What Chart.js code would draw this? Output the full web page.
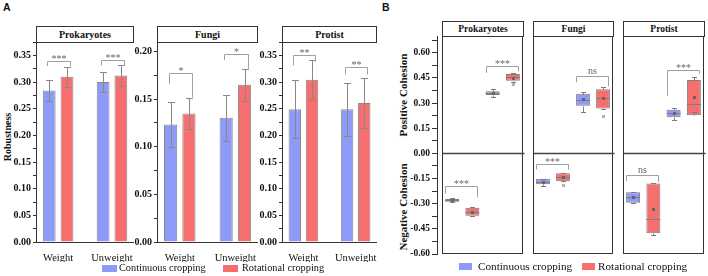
<!DOCTYPE html>
<html><head><meta charset="utf-8">
<script src="https://cdn.jsdelivr.net/npm/chart.js@4.4.1/dist/chart.umd.min.js"></script>
<style>
body{margin:0;background:#fff;width:708px;height:276px;overflow:hidden;position:relative;font-family:"Liberation Serif","Times New Roman",serif;color:#111;}
canvas{position:absolute;}
.hdr{position:absolute;box-sizing:border-box;border:1px solid #333;font-weight:bold;text-align:center;white-space:nowrap;}
.ha{top:26px;height:17px;font-size:10px;line-height:15px;}
.hb{top:21px;height:16px;font-size:9.5px;line-height:14px;}
.lab{position:absolute;font-family:"Liberation Sans",Arial,sans-serif;font-weight:bold;font-size:10.5px;line-height:10px;}
.rot{position:absolute;white-space:nowrap;font-weight:bold;transform:translate(-50%,-50%) rotate(-90deg);}
.sw{position:absolute;}
.lt{position:absolute;white-space:nowrap;}
</style></head><body>
<div class="lab" style="left:3px;top:2px">A</div>
<div class="lab" style="left:382px;top:2px">B</div>

<div class="hdr ha" style="left:36px;width:98px">Prokaryotes</div>
<div class="hdr ha" style="left:157px;width:101px">Fungi</div>
<div class="hdr ha" style="left:282px;width:95px">Protist</div>

<div class="hdr hb" style="left:442px;width:82px">Prokaryotes</div>
<div class="hdr hb" style="left:533px;width:81px">Fungi</div>
<div class="hdr hb" style="left:623px;width:82px">Protist</div>

<div class="rot" style="left:6.5px;top:137px;font-size:10px">Robustness</div>
<div class="rot" style="left:403px;top:95px;font-size:11px">Positive Cohesion</div>
<div class="rot" style="left:403px;top:207px;font-size:11px">Negative Cohesion</div>

<canvas id="a1" width="140" height="230" style="left:0px;top:32px"></canvas>
<canvas id="a2" width="140" height="230" style="left:120px;top:32px"></canvas>
<canvas id="a3" width="135" height="230" style="left:245px;top:32px"></canvas>
<canvas id="b1" width="130" height="238" style="left:395px;top:26px"></canvas>
<canvas id="b2" width="90" height="238" style="left:528px;top:26px"></canvas>
<canvas id="b3" width="90" height="238" style="left:618px;top:26px"></canvas>

<div id="legA"></div>
<div id="legB"></div>

<script>
// ---------- data ----------
const seriesNames = ['Continuous cropping', 'Rotational cropping'];
const groupsA = ['Weight', 'Unweight'];
const groupsB = ['Negative Cohesion', 'Positive Cohesion'];

// Panel A: robustness (mean, sd)
const prokCont = [0.284, 0.300], prokContErr = [0.0205, 0.0195];
const prokRot  = [0.310, 0.312], prokRotErr  = [0.019, 0.019];
const fungiCont = [0.1235, 0.1305], fungiContErr = [0.024, 0.024];
const fungiRot  = [0.135, 0.165],  fungiRotErr  = [0.016, 0.0165];
const protCont = [0.249, 0.249], protContErr = [0.054, 0.050];
const protRot  = [0.304, 0.2606], protRotErr = [0.0365, 0.047];

// significance brackets: group, label, bracket level, left leg end, right leg end
const sigProkA  = [{g:0, label:'***', y:0.339, l:0.330, r:0.330}, {g:1, label:'***', y:0.342, l:0.331, r:0.331}];
const sigFungiA = [{g:0, label:'*', y:0.1775, l:0.166, r:0.152}, {g:1, label:'*', y:0.197, l:0.191, r:0.182}];
const sigProtA  = [{g:0, label:'**', y:0.351, l:0.331, r:0.338}, {g:1, label:'**', y:0.3275, l:0.314, r:0.314}];

// Panel B: cohesion box plots  [negative, positive]
const prokContQ1=[-0.288,0.348], prokContQ3=[-0.272,0.370], prokContMed=[-0.280,0.358], prokContMean=[-0.280,0.360], prokContLo=[-0.292,0.338], prokContHi=[-0.268,0.382], prokContOut=[[],[]];
const prokRotQ1=[-0.372,0.433], prokRotQ3=[-0.324,0.474], prokRotMed=[-0.348,0.454], prokRotMean=[-0.350,0.452], prokRotLo=[-0.376,0.428], prokRotHi=[-0.322,0.478], prokRotOut=[[],[0.412]];
const fungiContQ1=[-0.184,0.284], fungiContQ3=[-0.152,0.356], fungiContMed=[-0.168,0.320], fungiContMean=[-0.170,0.324], fungiContLo=[-0.196,0.248], fungiContHi=[-0.150,0.364], fungiContOut=[[],[]];
const fungiRotQ1=[-0.166,0.268], fungiRotQ3=[-0.118,0.382], fungiRotMed=[-0.140,0.332], fungiRotMean=[-0.142,0.328], fungiRotLo=[-0.166,0.266], fungiRotHi=[-0.116,0.396], fungiRotOut=[[-0.188],[0.220]];
const protContQ1=[-0.294,0.216], protContQ3=[-0.232,0.260], protContMed=[-0.258,0.240], protContMean=[-0.262,0.238], protContLo=[-0.294,0.200], protContHi=[-0.230,0.268], protContOut=[[],[]];
const protRotQ1=[-0.476,0.228], protRotQ3=[-0.180,0.438], protRotMed=[-0.392,0.294], protRotMean=[-0.330,0.336], protRotLo=[-0.484,0.244], protRotHi=[-0.176,0.458], protRotOut=[[],[]];

const sigProkB  = [{g:0, label:'***', y:-0.192, l:-0.240, r:-0.262}, {g:1, label:'***', y:0.520, l:0.480, r:0.490}];
const sigFungiB = [{g:0, label:'***', y:-0.064, l:-0.096, r:-0.096}, {g:1, label:'ns', y:0.460, l:0.424, r:0.400}];
const sigProtB  = [{g:0, label:'ns', y:-0.126, l:-0.166, r:-0.172}, {g:1, label:'***', y:0.496, l:0.344, r:0.474}];

// tick labels
const ticksRob   = ['0.00','0.05','0.10','0.15','0.20','0.25','0.30','0.35'];
const ticksFungi = ['0.00','0.05','0.10','0.15','0.20'];
const ticksCoh   = ['-0.60','-0.45','-0.30','-0.15','0.00','0.15','0.30','0.45','0.60'];

// ---------- style ----------
const BLUE = '#8E9AF7', RED = '#F76E6E', EDGE = '#8a8a8a', AX = '#333';
const SERIF = '"Liberation Serif","Times New Roman",serif';

function tickBuilder(labels, max) {
  return s => {
    const vals = labels.map(Number), step = vals[1] - vals[0], out = [];
    vals.forEach((v, i) => {
      out.push({value: v, lab: labels[i]});
      const m = v + step / 2;
      if (m <= max + 1e-9) out.push({value: m, lab: ''});
    });
    s.ticks = out;
  };
}

const errPlugin = {
  id: 'errbars',
  afterDatasetsDraw(chart) {
    const ctx = chart.ctx, y = chart.scales.y;
    chart.data.datasets.forEach((ds, di) => {
      chart.getDatasetMeta(di).data.forEach((el, j) => {
        const v = ds.data[j].y, e = ds.err[j];
        const x = Math.round(el.x) + 0.5;
        const t = Math.round(y.getPixelForValue(v + e)) + 0.5, b = Math.round(y.getPixelForValue(v - e)) + 0.5;
        ctx.save(); ctx.strokeStyle = '#888'; ctx.lineWidth = 1;
        ctx.beginPath();
        ctx.moveTo(x, t); ctx.lineTo(x, b);
        ctx.moveTo(x - 3.5, t); ctx.lineTo(x + 3.5, t);
        ctx.moveTo(x - 3.5, b); ctx.lineTo(x + 3.5, b);
        ctx.stroke(); ctx.restore();
      });
    });
  }
};

const sigPlugin = {
  id: 'sig',
  afterDatasetsDraw(chart, args, opts) {
    const ctx = chart.ctx, y = chart.scales.y;
    const m0 = chart.getDatasetMeta(0), m1 = chart.getDatasetMeta(1);
    (opts.items || []).forEach(it => {
      const xl = Math.round(m0.data[it.g].x - opts.padL) + 0.5, xr = Math.round(m1.data[it.g].x + opts.padR) + 0.5;
      const yt = Math.round(y.getPixelForValue(it.y)) + 0.5;
      const yl = y.getPixelForValue(it.l), yr = y.getPixelForValue(it.r);
      ctx.save();
      ctx.strokeStyle = '#a0a0a0'; ctx.lineWidth = 1;
      ctx.beginPath(); ctx.moveTo(xl, yl); ctx.lineTo(xl, yt); ctx.lineTo(xr, yt); ctx.lineTo(xr, yr); ctx.stroke();
      ctx.fillStyle = '#666'; ctx.textAlign = 'center'; ctx.textBaseline = 'alphabetic';
      ctx.font = '10px ' + SERIF;
      ctx.fillText(it.label, (xl + xr) / 2, yt - (it.label === 'ns' ? 3 : 0));
      ctx.restore();
    });
  }
};

const framePlugin = {
  id: 'frame',
  afterDraw(chart, args, opts) {
    const ctx = chart.ctx, a = chart.chartArea, y = chart.scales.y;
    const l = Math.round(a.left + (opts.inset || 0)) + 0.5, r = Math.round(a.right) - 0.5;
    const t = Math.round(a.top) + 0.5, b = Math.round(a.bottom) - 0.5;
    ctx.save(); ctx.strokeStyle = AX; ctx.lineWidth = 1;
    ctx.strokeRect(l, t, r - l, b - t);
    const z = Math.round(y.getPixelForValue(0)) + 0.5;
    ctx.lineWidth = 1.3; ctx.strokeStyle = '#444';
    ctx.beginPath(); ctx.moveTo(l, z); ctx.lineTo(r + 2, z); ctx.stroke();
    ctx.restore();
  }
};

const boxPlugin = {
  id: 'boxes',
  afterDatasetsDraw(chart) {
    const ctx = chart.ctx, y = chart.scales.y;
    const P = v => Math.round(y.getPixelForValue(v)) + 0.5;
    chart.data.datasets.forEach((ds, di) => {
      const s = ds.stats;
      chart.getDatasetMeta(di).data.forEach((el, j) => {
        const x = Math.round(el.x) + 0.5, hw = el.width / 2;
        const q1 = ds.data[j].y[0], q3 = ds.data[j].y[1];
        ctx.save(); ctx.strokeStyle = '#7d7d7d'; ctx.lineWidth = 1;
        ctx.beginPath();
        ctx.moveTo(x, P(q3)); ctx.lineTo(x, P(s.hi[j]));
        ctx.moveTo(x - 2.5, P(s.hi[j])); ctx.lineTo(x + 2.5, P(s.hi[j]));
        ctx.moveTo(x, P(q1)); ctx.lineTo(x, P(s.lo[j]));
        ctx.moveTo(x - 2.5, P(s.lo[j])); ctx.lineTo(x + 2.5, P(s.lo[j]));
        ctx.moveTo(el.x - hw, P(s.med[j])); ctx.lineTo(el.x + hw, P(s.med[j]));
        ctx.stroke();
        ctx.fillStyle = '#666';
        const my = y.getPixelForValue(s.mean[j]);
        ctx.fillRect(Math.round(el.x) - 1, Math.round(my) - 1, 3, 3);
        ctx.fillStyle = '#b5b5b5';
        (s.out[j] || []).forEach(o => { ctx.fillRect(Math.round(el.x) - 1, Math.round(y.getPixelForValue(o)) - 1, 3, 3); });
        ctx.restore();
      });
    });
  }
};

function makeA(id, yW, padR, yMax, tickLabels, cont, contErr, rot, rotErr, sig) {
  new Chart(document.getElementById(id), {
    type: 'bar',
    data: {datasets: [
      {label: seriesNames[0], data: groupsA.map((g, i) => ({x: i, y: cont[i]})), err: contErr,
       backgroundColor: BLUE, borderColor: EDGE, borderWidth: 1, categoryPercentage: 0.66, barPercentage: 0.72},
      {label: seriesNames[1], data: groupsA.map((g, i) => ({x: i, y: rot[i]})), err: rotErr,
       backgroundColor: RED, borderColor: EDGE, borderWidth: 1, categoryPercentage: 0.66, barPercentage: 0.72}
    ]},
    options: {
      responsive: false, animation: false, devicePixelRatio: 1,
      layout: {padding: {left: 0, right: padR, top: 10, bottom: 0}},
      scales: {
        x: {type: 'linear', offset: false, min: -0.41, max: 1.39,
            afterBuildTicks: s => { s.ticks = groupsA.map((g, i) => ({value: i})); },
            ticks: {callback: v => groupsA[v], font: {family: SERIF, size: 10.5}, color: '#111', padding: 2, maxRotation: 0, autoSkip: false},
            grid: {display: false, offset: false}, border: {display: true, color: AX, width: 1},
            afterFit: s => { s.height = 20; }},
        y: {type: 'linear', min: 0, max: yMax,
            afterBuildTicks: tickBuilder(tickLabels, yMax),
            ticks: {callback: (v, i, t) => t[i].lab, font: {family: SERIF, size: 10, weight: 'bold'}, color: '#111', padding: 2, autoSkip: false},
            grid: {drawOnChartArea: false, tickLength: 3, color: AX},
            border: {display: true, color: AX, width: 1},
            afterFit: s => { s.width = yW; }}
      },
      plugins: {legend: {display: false}, tooltip: {enabled: false},
                sig: {items: sig, padL: 2, padR: 3}}
    },
    plugins: [errPlugin, sigPlugin]
  });
}

function makeB(id, showY, padL, padR, xMin, inset, contS, rotS, sig) {
  const mk = (name, color, st) => ({
    label: name, data: groupsB.map((g, i) => ({x: i, y: [st.q1[i], st.q3[i]]})), stats: st,
    backgroundColor: color, borderColor: '#7d7d7d', borderWidth: 1, borderSkipped: false,
    categoryPercentage: 1, barPercentage: 0.69
  });
  new Chart(document.getElementById(id), {
    type: 'bar',
    data: {datasets: [mk(seriesNames[0], BLUE, contS), mk(seriesNames[1], RED, rotS)]},
    options: {
      responsive: false, animation: false, devicePixelRatio: 1,
      layout: {padding: {left: padL, right: padR, top: 10, bottom: 10}},
      scales: {
        x: {type: 'linear', display: false, offset: false, min: xMin, max: 1.5,
            grid: {offset: false},
            afterBuildTicks: s => { s.ticks = groupsB.map((g, i) => ({value: i})); }},
        y: {type: 'linear', display: showY, min: -0.6, max: 0.7,
            afterBuildTicks: tickBuilder(ticksCoh, 0.7),
            ticks: {callback: (v, i, t) => t[i].lab, font: {family: SERIF, size: 9.5, weight: 'bold'}, color: '#111', padding: 2, autoSkip: false},
            grid: {drawOnChartArea: false, tickLength: 5, color: AX},
            border: {display: true, color: AX, width: 1},
            afterFit: s => { s.width = showY ? 42 : 0; }}
      },
      plugins: {legend: {display: false}, tooltip: {enabled: false},
                sig: {items: sig, padL: 7, padR: 5}, frame: {inset: inset}}
    },
    plugins: [boxPlugin, sigPlugin, framePlugin]
  });
}

makeA('a1', 36, 7, 0.375, ticksRob, prokCont, prokContErr, prokRot, prokRotErr, sigProkA);
makeA('a2', 37, 3, 0.21, ticksFungi, fungiCont, fungiContErr, fungiRot, fungiRotErr, sigFungiA);
makeA('a3', 37, 4, 0.375, ticksRob, protCont, protContErr, protRot, protRotErr, sigProtA);

const st = (q1, q3, med, mean, lo, hi, out) => ({q1, q3, med, mean, lo, hi, out});
makeB('b1', true, 0, 2, -0.6235, 5,
  st(prokContQ1, prokContQ3, prokContMed, prokContMean, prokContLo, prokContHi, prokContOut),
  st(prokRotQ1, prokRotQ3, prokRotMed, prokRotMean, prokRotLo, prokRotHi, prokRotOut), sigProkB);
makeB('b2', false, 5, 5, -0.5, 0,
  st(fungiContQ1, fungiContQ3, fungiContMed, fungiContMean, fungiContLo, fungiContHi, fungiContOut),
  st(fungiRotQ1, fungiRotQ3, fungiRotMed, fungiRotMean, fungiRotLo, fungiRotHi, fungiRotOut), sigFungiB);
makeB('b3', false, 5, 4, -0.5, 0,
  st(protContQ1, protContQ3, protContMed, protContMean, protContLo, protContHi, protContOut),
  st(protRotQ1, protRotQ3, protRotMed, protRotMean, protRotLo, protRotHi, protRotOut), sigProtB);

// legends
function legend(hostId, items, fs, swTop, swH, swW, textTop) {
  const host = document.getElementById(hostId);
  items.forEach(it => {
    const sw = document.createElement('div');
    sw.className = 'sw';
    sw.style.cssText = `left:${it.sx}px;top:${swTop}px;width:${swW}px;height:${swH}px;background:${it.c}`;
    host.appendChild(sw);
    const t = document.createElement('div');
    t.className = 'lt';
    t.style.cssText = `left:${it.tx}px;top:${textTop}px;font-size:${fs}px;line-height:${fs + 2}px`;
    t.textContent = it.name;
    host.appendChild(t);
  });
}
legend('legA', [{sx: 102, tx: 119, c: BLUE, name: seriesNames[0]}, {sx: 223, tx: 242, c: RED, name: seriesNames[1]}], 10.3, 265, 7, 15, 262);
legend('legB', [{sx: 459, tx: 478, c: BLUE, name: seriesNames[0]}, {sx: 582, tx: 598, c: RED, name: seriesNames[1]}], 11.2, 263, 7, 13, 260);
</script>
</body></html>
